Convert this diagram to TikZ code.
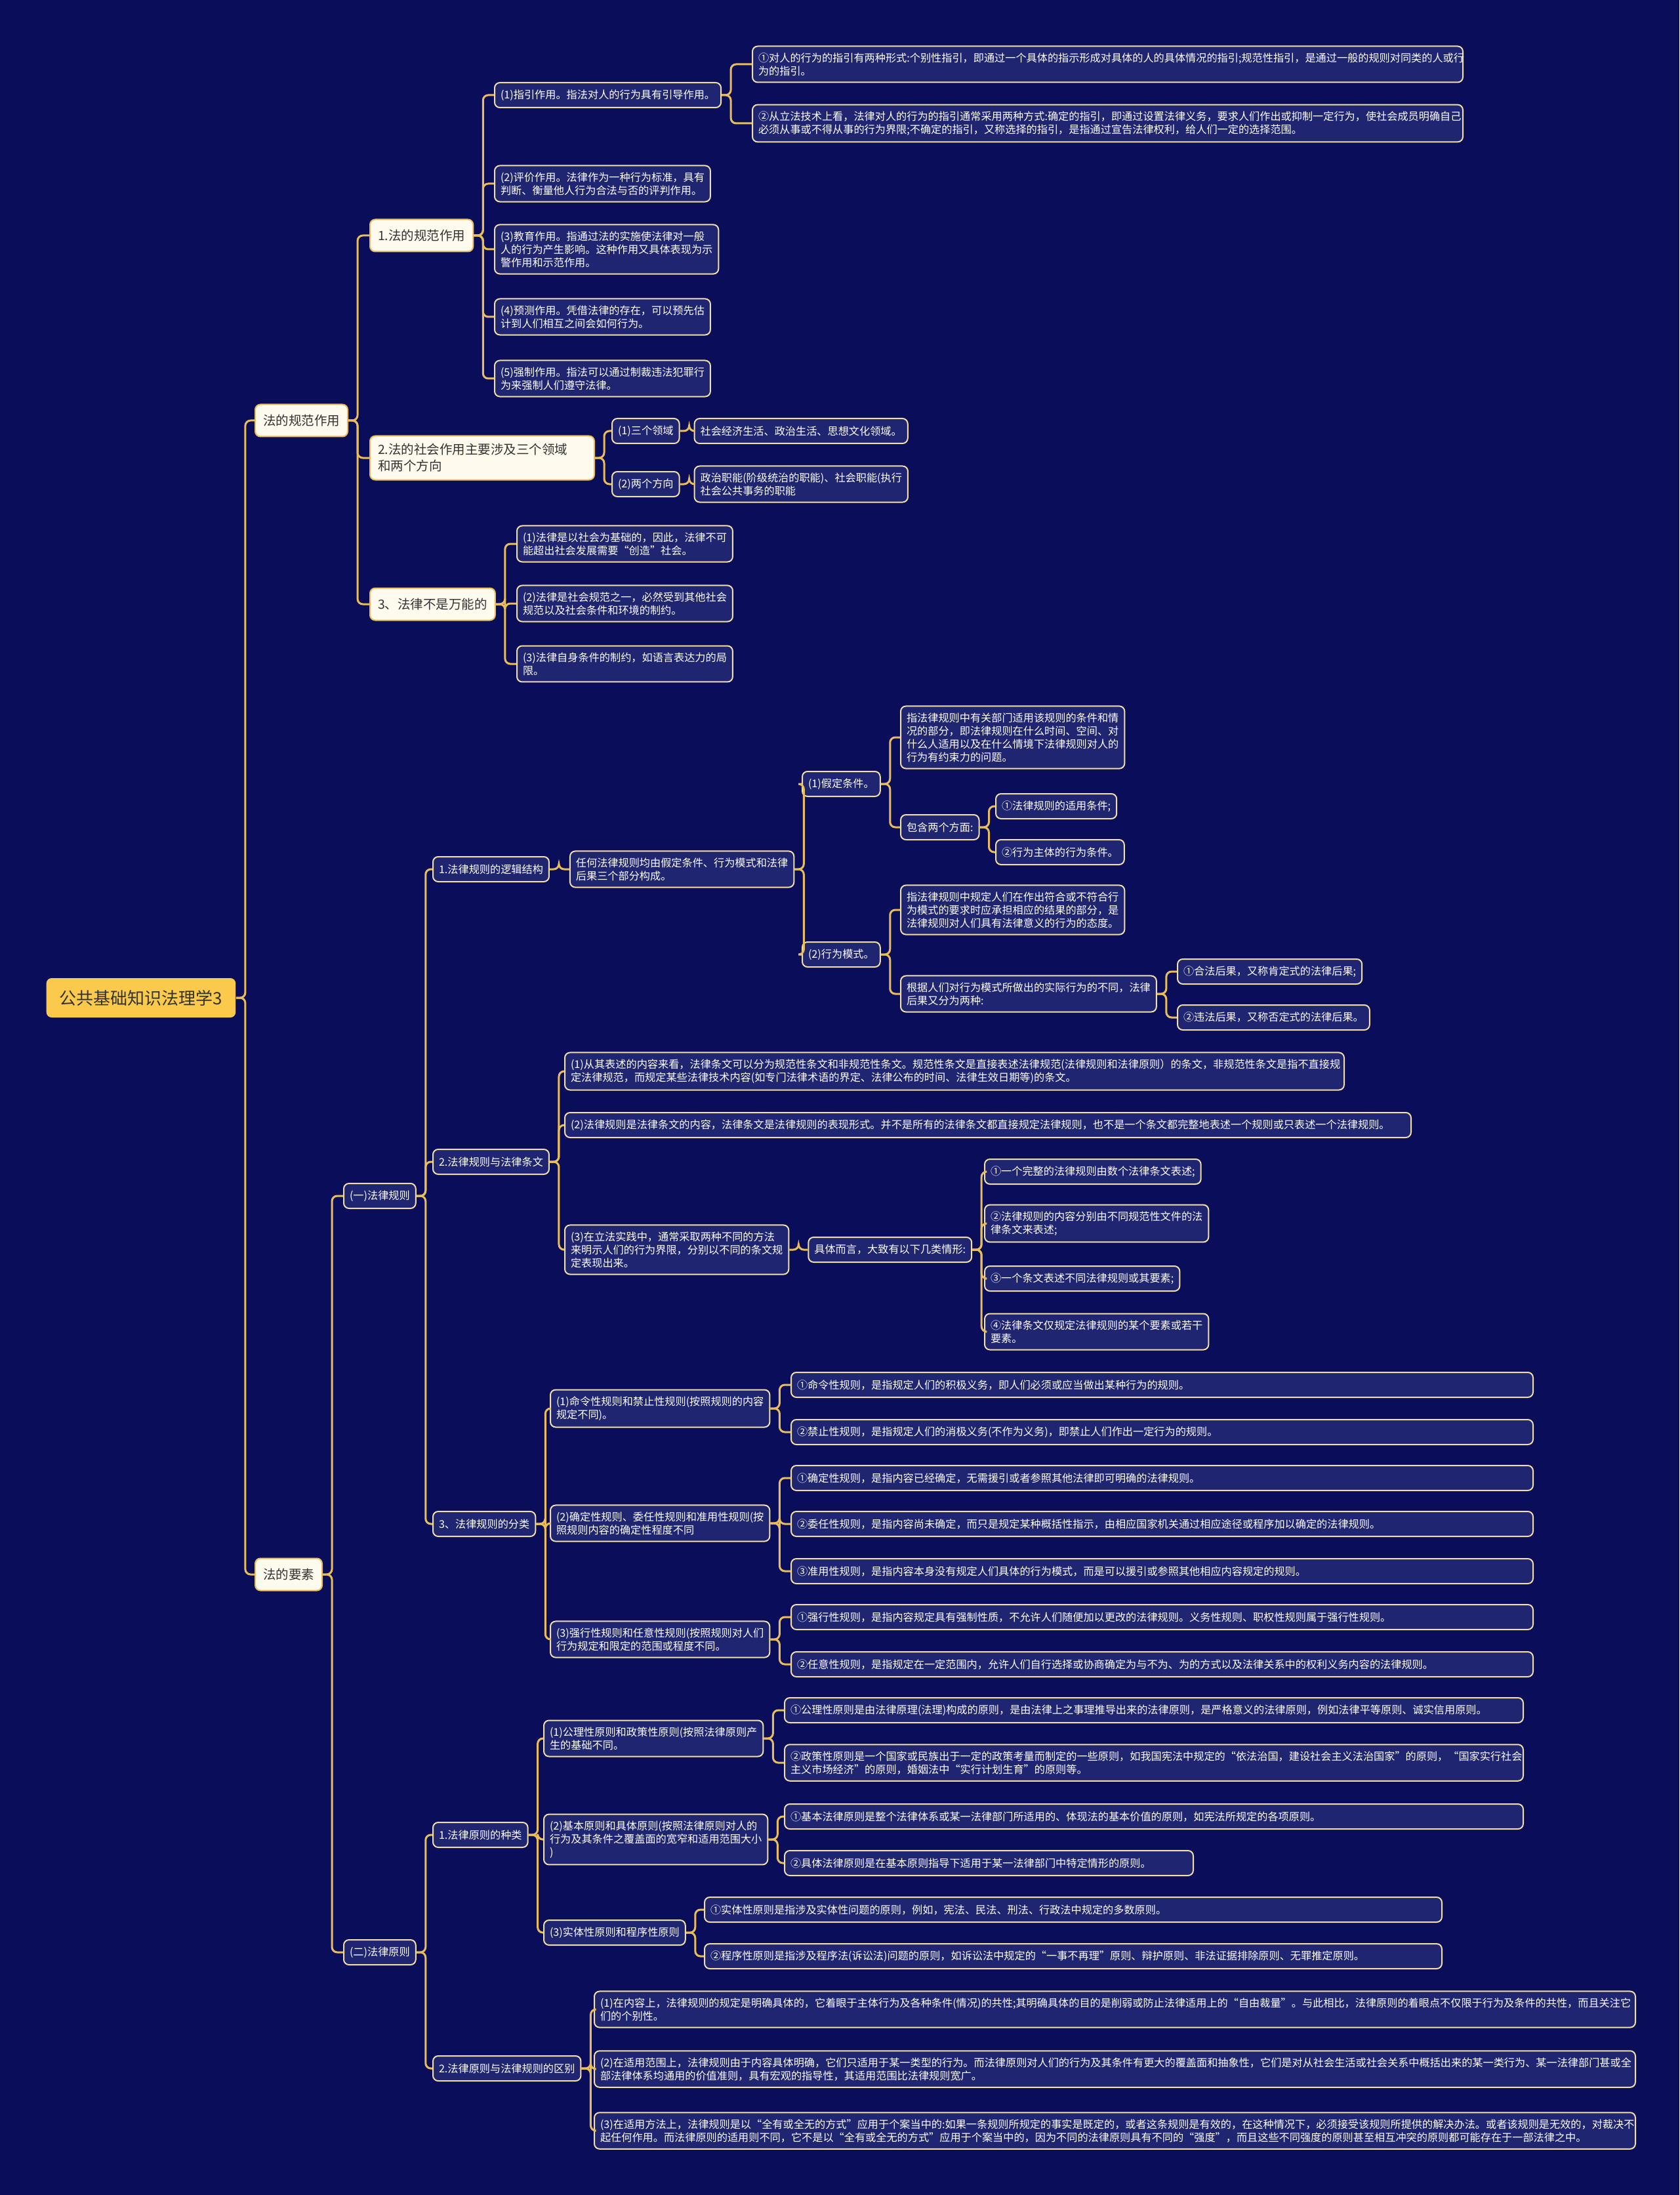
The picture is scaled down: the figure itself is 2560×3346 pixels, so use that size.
\documentclass[tikz,border=0pt]{standalone}
\usepackage{fontspec}
\setmainfont{Noto Sans CJK SC}
\usepackage{tikz}
\usetikzlibrary{positioning}

\definecolor{bgnavy}{HTML}{0A0E5A}
\definecolor{leaffill}{HTML}{1F2571}
\definecolor{leafline}{HTML}{F1DDA6}
\definecolor{linkgold}{HTML}{E8BD5A}
\definecolor{topicfill}{HTML}{FFFAEE}
\definecolor{rootgold}{HTML}{FBC94C}
\definecolor{inkdark}{HTML}{333333}

\begin{document}
\begin{tikzpicture}[
  x=0.1mm, y=-0.1mm,
  every node/.style={anchor=west},
  root/.style={rectangle, rounded corners=0.8mm, fill=rootgold, text=inkdark,
               inner xsep=2mm, minimum height=6mm, font=\fontsize{7.4pt}{9pt}\selectfont},
  topic/.style={rectangle, rounded corners=0.8mm, draw=linkgold, line width=0.2mm,
                fill=topicfill, text=inkdark, inner xsep=1.2mm, inner ysep=1.2mm,
                minimum height=4.9mm, align=left, font=\fontsize{5.55pt}{7.1pt}\selectfont},
  leaf/.style={rectangle, rounded corners=0.8mm, draw=leafline, line width=0.2mm,
               fill=leaffill, text=white, inner xsep=0.9mm, inner ysep=1mm,
               minimum height=3.8mm, align=left, font=\fontsize{4.6pt}{5.7pt}\selectfont},
  boxw/.style={text width=#1},
  edge/.style={draw=linkgold, line width=0.3mm, rounded corners=0.8mm},
]
  \fill[bgnavy] (0,0) rectangle (2560,3346);
  \useasboundingbox (0,0) rectangle (2560,3346);

  % root and first level
  \node[root] (R) at (70,1521) {公共基础知识法理学3};
  \node[topic] (FA) at (388,641) {法的规范作用};
  \node[topic] (FB) at (388,2400) {法的要素};

  % 法的规范作用
  \node[topic] (A1) at (563,359) {1.法的规范作用};
  \node[topic, boxw=31.8mm] (A2) at (563,698) {2.法的社会作用主要涉及三个领域\\和两个方向};
  \node[topic] (A3) at (563,921) {3、法律不是万能的};

  \node[leaf] (A11) at (753,145) {(1)指引作用。指法对人的行为具有引导作用。};
  \node[leaf, boxw=106.5mm] (A111) at (1146,98) {①对人的行为的指引有两种形式:个别性指引，即通过一个具体的指示形成对具体的人的具体情况的指引;规范性指引，是通过一般的规则对同类的人或行\\为的指引。};
  \node[leaf, boxw=106.5mm] (A112) at (1146,188) {②从立法技术上看，法律对人的行为的指引通常采用两种方式:确定的指引，即通过设置法律义务，要求人们作出或抑制一定行为，使社会成员明确自己\\必须从事或不得从事的行为界限;不确定的指引，又称选择的指引，是指通过宣告法律权利，给人们一定的选择范围。};
  \node[leaf] (A12) at (753,280) {(2)评价作用。法律作为一种行为标准，具有\\判断、衡量他人行为合法与否的评判作用。};
  \node[leaf] (A13) at (753,380) {(3)教育作用。指通过法的实施使法律对一般\\人的行为产生影响。这种作用又具体表现为示\\警作用和示范作用。};
  \node[leaf] (A14) at (753,483) {(4)预测作用。凭借法律的存在，可以预先估\\计到人们相互之间会如何行为。};
  \node[leaf] (A15) at (753,577) {(5)强制作用。指法可以通过制裁违法犯罪行\\为来强制人们遵守法律。};

  \node[leaf] (A21) at (932,657) {(1)三个领域};
  \node[leaf, right=2.1mm of A21] (A211) {社会经济生活、政治生活、思想文化领域。};
  \node[leaf] (A22) at (932,738) {(2)两个方向};
  \node[leaf, right=2.1mm of A22] (A221) {政治职能(阶级统治的职能)、社会职能(执行\\社会公共事务的职能};

  \node[leaf] (A31) at (787,829) {(1)法律是以社会为基础的，因此，法律不可\\能超出社会发展需要“创造”社会。};
  \node[leaf] (A32) at (787,920) {(2)法律是社会规范之一，必然受到其他社会\\规范以及社会条件和环境的制约。};
  \node[leaf] (A33) at (787,1012) {(3)法律自身条件的制约，如语言表达力的局\\限。};

  % 法的要素
  \node[leaf] (B1) at (523,1823) {(一)法律规则};
  \node[leaf] (B2) at (523,2976) {(二)法律原则};

  \node[leaf] (B11) at (659,1325) {1.法律规则的逻辑结构};
  \node[leaf, right=3mm of B11] (B111) {任何法律规则均由假定条件、行为模式和法律\\后果三个部分构成。};
  \node[leaf] (JD) at (1222,1195) {(1)假定条件。};
  \node[leaf] (C1) at (1372,1124) {指法律规则中有关部门适用该规则的条件和情\\况的部分，即法律规则在什么时间、空间、对\\什么人适用以及在什么情境下法律规则对人的\\行为有约束力的问题。};
  \node[leaf] (C2) at (1372,1261) {包含两个方面:};
  \node[leaf] (C21) at (1517,1229) {①法律规则的适用条件;};
  \node[leaf] (C22) at (1517,1299) {②行为主体的行为条件。};
  \node[leaf] (XW) at (1222,1455) {(2)行为模式。};
  \node[leaf] (D1) at (1372,1387) {指法律规则中规定人们在作出符合或不符合行\\为模式的要求时应承担相应的结果的部分，是\\法律规则对人们具有法律意义的行为的态度。};
  \node[leaf] (D2) at (1372,1515) {根据人们对行为模式所做出的实际行为的不同，法律\\后果又分为两种:};
  \node[leaf] (D21) at (1794,1481) {①合法后果，又称肯定式的法律后果;};
  \node[leaf] (D22) at (1794,1551) {②违法后果，又称否定式的法律后果。};

  \node[leaf] (B12) at (659,1771) {2.法律规则与法律条文};
  \node[leaf, boxw=117mm] (E1) at (860,1633) {(1)从其表述的内容来看，法律条文可以分为规范性条文和非规范性条文。规范性条文是直接表述法律规范(法律规则和法律原则）的条文，非规范性条文是指不直接规\\定法律规范，而规定某些法律技术内容(如专门法律术语的界定、法律公布的时间、法律生效日期等)的条文。};
  \node[leaf, boxw=127.2mm] (E2) at (860,1715) {(2)法律规则是法律条文的内容，法律条文是法律规则的表现形式。并不是所有的法律条文都直接规定法律规则，也不是一个条文都完整地表述一个规则或只表述一个法律规则。};
  \node[leaf] (E3) at (860,1905) {(3)在立法实践中，通常采取两种不同的方法\\来明示人们的行为界限，分别以不同的条文规\\定表现出来。};
  \node[leaf, right=2.8mm of E3] (E31) {具体而言，大致有以下几类情形:};
  \node[leaf] (E311) at (1500,1786) {①一个完整的法律规则由数个法律条文表述;};
  \node[leaf] (E312) at (1500,1865) {②法律规则的内容分别由不同规范性文件的法\\律条文来表述;};
  \node[leaf] (E313) at (1500,1949) {③一个条文表述不同法律规则或其要素;};
  \node[leaf] (E314) at (1500,2030) {④法律条文仅规定法律规则的某个要素或若干\\要素。};

  \node[leaf] (B13) at (659,2323) {3、法律规则的分类};
  \node[leaf] (F1) at (838,2147) {(1)命令性规则和禁止性规则(按照规则的内容\\规定不同)。};
  \node[leaf, boxw=111.3mm] (F11) at (1205,2111) {①命令性规则，是指规定人们的积极义务，即人们必须或应当做出某种行为的规则。};
  \node[leaf, boxw=111.3mm] (F12) at (1205,2183) {②禁止性规则，是指规定人们的消极义务(不作为义务)，即禁止人们作出一定行为的规则。};
  \node[leaf] (F2) at (838,2322) {(2)确定性规则、委任性规则和准用性规则(按\\照规则内容的确定性程度不同};
  \node[leaf, boxw=111.3mm] (F21) at (1205,2253) {①确定性规则，是指内容已经确定，无需援引或者参照其他法律即可明确的法律规则。};
  \node[leaf, boxw=111.3mm] (F22) at (1205,2323) {②委任性规则，是指内容尚未确定，而只是规定某种概括性指示，由相应国家机关通过相应途径或程序加以确定的法律规则。};
  \node[leaf, boxw=111.3mm] (F23) at (1205,2395) {③准用性规则，是指内容本身没有规定人们具体的行为模式，而是可以援引或参照其他相应内容规定的规则。};
  \node[leaf] (F3) at (838,2499) {(3)强行性规则和任意性规则(按照规则对人们\\行为规定和限定的范围或程度不同。};
  \node[leaf, boxw=111.3mm] (F31) at (1205,2465) {①强行性规则，是指内容规定具有强制性质，不允许人们随便加以更改的法律规则。义务性规则、职权性规则属于强行性规则。};
  \node[leaf, boxw=111.3mm] (F32) at (1205,2537) {②任意性规则，是指规定在一定范围内，允许人们自行选择或协商确定为与不为、为的方式以及法律关系中的权利义务内容的法律规则。};

  \node[leaf] (G1) at (659,2797) {1.法律原则的种类};
  \node[leaf] (G11) at (828,2650) {(1)公理性原则和政策性原则(按照法律原则产\\生的基础不同。};
  \node[leaf, boxw=110.8mm] (G111) at (1195,2607) {①公理性原则是由法律原理(法理)构成的原则，是由法律上之事理推导出来的法律原则，是严格意义的法律原则，例如法律平等原则、诚实信用原则。};
  \node[leaf, boxw=110.8mm] (G112) at (1195,2687) {②政策性原则是一个国家或民族出于一定的政策考量而制定的一些原则，如我国宪法中规定的“依法治国，建设社会主义法治国家”的原则，“国家实行社会\\主义市场经济”的原则，婚姻法中“实行计划生育”的原则等。};
  \node[leaf] (G12) at (828,2804) {(2)基本原则和具体原则(按照法律原则对人的\\行为及其条件之覆盖面的宽窄和适用范围大小\\)};
  \node[leaf, boxw=110.8mm] (G121) at (1195,2769) {①基本法律原则是整个法律体系或某一法律部门所适用的、体现法的基本价值的原则，如宪法所规定的各项原则。};
  \node[leaf, boxw=60.5mm] (G122) at (1195,2840) {②具体法律原则是在基本原则指导下适用于某一法律部门中特定情形的原则。};
  \node[leaf] (G13) at (828,2946) {(3)实体性原则和程序性原则};
  \node[leaf, boxw=110.6mm] (G131) at (1073,2911) {①实体性原则是指涉及实体性问题的原则，例如，宪法、民法、刑法、行政法中规定的多数原则。};
  \node[leaf, boxw=110.6mm] (G132) at (1073,2982) {②程序性原则是指涉及程序法(诉讼法)问题的原则，如诉讼法中规定的“一事不再理”原则、辩护原则、非法证据排除原则、无罪推定原则。};

  \node[leaf] (G2) at (659,3153) {2.法律原则与法律规则的区别};
  \node[leaf, boxw=156.9mm] (G21) at (905,3063) {(1)在内容上，法律规则的规定是明确具体的，它着眼于主体行为及各种条件(情况)的共性;其明确具体的目的是削弱或防止法律适用上的“自由裁量”。与此相比，法律原则的着眼点不仅限于行为及条件的共性，而且关注它\\们的个别性。};
  \node[leaf, boxw=156.9mm] (G22) at (905,3154) {(2)在适用范围上，法律规则由于内容具体明确，它们只适用于某一类型的行为。而法律原则对人们的行为及其条件有更大的覆盖面和抽象性，它们是对从社会生活或社会关系中概括出来的某一类行为、某一法律部门甚或全\\部法律体系均通用的价值准则，具有宏观的指导性，其适用范围比法律规则宽广。};
  \node[leaf, boxw=156.9mm] (G23) at (905,3248) {(3)在适用方法上，法律规则是以“全有或全无的方式”应用于个案当中的:如果一条规则所规定的事实是既定的，或者这条规则是有效的，在这种情况下，必须接受该规则所提供的解决办法。或者该规则是无效的，对裁决不\\起任何作用。而法律原则的适用则不同，它不是以“全有或全无的方式”应用于个案当中的，因为不同的法律原则具有不同的“强度”，而且这些不同强度的原则甚至相互冲突的原则都可能存在于一部法律之中。};

  % connectors
  \foreach \p/\c in {R/FA, R/FB, FA/A1, FA/A2, FA/A3,
      A1/A11, A1/A12, A1/A13, A1/A14, A1/A15, A11/A111, A11/A112,
      A2/A21, A2/A22, A21/A211, A22/A221, A3/A31, A3/A32, A3/A33,
      FB/B1, FB/B2, B1/B11, B1/B12, B1/B13,
      B11/B111, B111/JD, B111/XW, JD/C1, JD/C2, C2/C21, C2/C22,
      XW/D1, XW/D2, D2/D21, D2/D22,
      B12/E1, B12/E2, B12/E3, E3/E31, E31/E311, E31/E312, E31/E313, E31/E314,
      B13/F1, B13/F2, B13/F3, F1/F11, F1/F12, F2/F21, F2/F22, F2/F23, F3/F31, F3/F32,
      B2/G1, B2/G2, G1/G11, G1/G12, G1/G13, G11/G111, G11/G112, G12/G121, G12/G122,
      G13/G131, G13/G132, G2/G21, G2/G22, G2/G23}
    \draw[edge] (\p.east) -- ++(14,0) |- (\c.west);
\end{tikzpicture}
\end{document}
